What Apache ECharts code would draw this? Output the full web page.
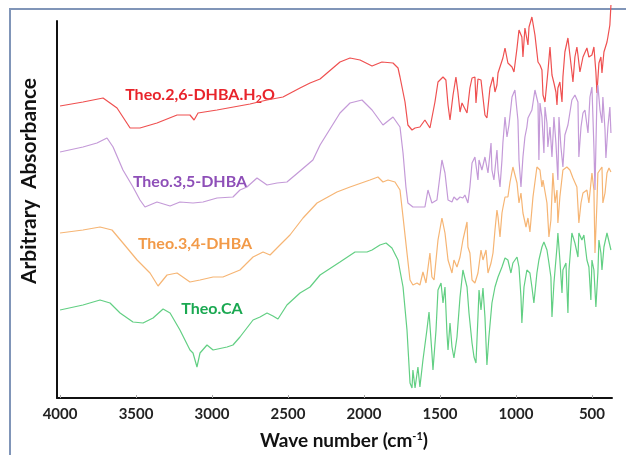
<!DOCTYPE html>
<html>
<head>
<meta charset="utf-8">
<script src="https://cdn.jsdelivr.net/npm/echarts@6/dist/echarts.min.js"></script>
<style>html,body{margin:0;padding:0;background:#fff}#c{width:626px;height:455px}</style>
</head>
<body>
<div id="c"></div>
<script>
// Wave number tick labels
var xTicks = [4000, 3500, 3000, 2500, 2000, 1500, 1000, 500];

// [wave number (cm-1), arbitrary absorbance]
var dhba26 = [[4000,292],[3849,296],[3717,300],[3625,290],[3539,270],[3474,270],[3362,275],[3230,283],[3145,283],[3118,278],[3092,285],[2967,288],[2750,294],[2638,298],[2533,301],[2421,310],[2355,315],[2289,319],[2158,336],[2092,340],[2026,338],[1947,332],[1882,336],[1809,335],[1776,330],[1763,321],[1730,296],[1711,273],[1684,268],[1664,270],[1632,271],[1599,278],[1566,270],[1533,296],[1513,316],[1480,321],[1461,318],[1447,293],[1434,278],[1414,303],[1395,321],[1382,306],[1368,286],[1355,295],[1342,296],[1322,285],[1303,310],[1289,320],[1270,321],[1263,295],[1250,319],[1230,318],[1204,283],[1191,280],[1171,310],[1151,321],[1138,306],[1125,313],[1118,325],[1086,340],[1072,350],[1053,335],[1026,331],[1013,326],[993,350],[980,368],[961,361],[954,341],[941,370],[921,353],[914,371],[895,381],[875,363],[855,336],[842,333],[829,328],[822,303],[809,296],[790,326],[776,351],[763,323],[750,315],[737,306],[730,293],[724,310],[711,316],[697,296],[691,321],[678,346],[658,360],[645,343],[632,326],[625,316],[612,341],[599,351],[592,343],[579,326],[559,341],[533,350],[520,341],[500,343],[487,351],[474,326],[467,305],[454,335],[441,341],[434,325],[421,346],[401,356],[395,361],[382,373],[375,393]];

var dhba35 = [[4000,246],[3849,251],[3757,255],[3691,260],[3651,251],[3586,228],[3520,211],[3474,198],[3441,191],[3362,196],[3276,192],[3211,196],[3125,195],[3059,196],[2967,200],[2862,201],[2816,208],[2770,211],[2704,220],[2638,213],[2572,215],[2507,216],[2421,227],[2336,238],[2289,253],[2158,285],[2092,295],[2013,298],[1947,288],[1875,273],[1809,281],[1796,281],[1763,271],[1743,245],[1724,211],[1711,195],[1678,191],[1599,191],[1579,208],[1566,210],[1553,195],[1520,198],[1487,238],[1467,225],[1447,198],[1421,196],[1408,201],[1388,198],[1368,201],[1349,200],[1336,203],[1316,195],[1303,211],[1289,235],[1270,241],[1250,218],[1243,238],[1224,228],[1204,241],[1184,225],[1164,255],[1158,228],[1145,218],[1125,248],[1118,228],[1105,211],[1092,238],[1086,255],[1072,281],[1059,261],[1046,273],[1026,301],[1007,308],[987,278],[980,238],[967,211],[954,241],[941,261],[928,271],[921,280],[895,288],[875,308],[855,295],[849,238],[842,295],[829,281],[816,245],[809,291],[796,275],[790,251],[776,271],[763,241],[750,281],[737,255],[724,218],[717,281],[704,251],[691,231],[678,263],[658,273],[645,271],[632,298],[612,303],[592,296],[586,241],[572,271],[559,285],[546,288],[526,265],[513,301],[500,311],[487,251],[480,208],[467,301],[461,313],[447,288],[434,275],[428,301],[414,268],[408,240],[395,271],[382,291],[375,265]];

var dhba34 = [[4000,165],[3849,168],[3737,171],[3658,168],[3586,155],[3493,138],[3408,125],[3355,112],[3296,123],[3230,125],[3145,116],[3079,118],[2993,121],[2928,121],[2816,128],[2730,141],[2664,146],[2618,143],[2553,153],[2487,163],[2401,180],[2309,195],[2178,206],[2092,211],[1961,218],[1908,221],[1875,216],[1842,218],[1796,216],[1763,208],[1743,181],[1717,145],[1697,118],[1678,113],[1651,115],[1632,113],[1612,126],[1592,115],[1566,145],[1553,121],[1539,118],[1513,158],[1487,180],[1467,165],[1447,138],[1421,125],[1408,138],[1388,131],[1368,141],[1349,158],[1322,176],[1316,151],[1303,145],[1289,118],[1270,115],[1250,125],[1230,148],[1217,138],[1197,148],[1184,125],[1164,135],[1151,145],[1138,168],[1125,188],[1118,181],[1105,161],[1092,185],[1086,190],[1072,201],[1053,201],[1039,216],[1020,231],[993,215],[980,195],[967,205],[954,185],[934,171],[921,180],[908,166],[888,201],[862,231],[842,228],[829,211],[822,218],[796,195],[783,161],[770,178],[757,225],[743,195],[730,208],[724,175],[711,201],[691,228],[665,231],[645,228],[625,220],[599,211],[586,175],[572,195],[559,205],[533,208],[520,195],[500,225],[487,208],[480,145],[467,195],[461,225],[434,231],[428,195],[414,205],[401,225],[388,230],[375,226]];

var ca = [[4000,88],[3849,93],[3737,98],[3671,95],[3605,85],[3520,76],[3454,75],[3388,80],[3322,89],[3276,85],[3211,68],[3145,48],[3125,45],[3099,31],[3079,45],[3033,53],[2993,48],[2901,51],[2862,53],[2816,61],[2730,78],[2684,81],[2638,85],[2599,82],[2566,79],[2507,93],[2421,105],[2355,111],[2289,123],[2158,136],[2059,146],[1980,146],[1947,148],[1895,153],[1855,155],[1816,150],[1776,138],[1743,111],[1717,68],[1697,15],[1684,10],[1678,28],[1664,10],[1645,31],[1632,11],[1612,38],[1586,68],[1572,86],[1553,45],[1546,28],[1526,68],[1513,108],[1493,115],[1480,95],[1467,111],[1454,65],[1447,48],[1434,75],[1421,51],[1408,40],[1388,61],[1368,101],[1349,128],[1322,111],[1309,85],[1289,55],[1276,41],[1263,35],[1250,81],[1243,108],[1230,88],[1217,110],[1204,81],[1191,33],[1178,61],[1158,95],[1138,111],[1118,121],[1092,131],[1072,140],[1053,138],[1033,125],[1020,135],[993,141],[980,131],[967,101],[961,75],[947,111],[928,128],[908,125],[895,111],[882,95],[862,125],[849,138],[829,151],[816,156],[796,148],[783,135],[770,121],[763,81],[750,115],[730,151],[724,165],[711,138],[697,105],[691,128],[671,135],[658,85],[651,128],[632,165],[612,155],[592,141],[586,165],[566,158],[553,163],[533,138],[520,131],[507,98],[500,138],[487,128],[474,91],[461,125],[454,158],[441,145],[434,128],[421,151],[401,165],[388,165],[375,148]];

var names = ['Theo.2,6-DHBA.H2O', 'Theo.3,5-DHBA', 'Theo.3,4-DHBA', 'Theo.CA'];
var lineColors = ['#ef5050', '#c49ad8', '#f6b574', '#62cf83'];
var textColors = ['#e8242b', '#8e4fb8', '#f29a48', '#1aa851'];
var seriesData = [dhba26, dhba35, dhba34, ca];

var chart = echarts.init(document.getElementById('c'), null, {renderer: 'canvas'});
var FONT = 'Lato, "Open Sans", sans-serif';

var series = seriesData.map(function (d, i) {
  return {
    name: names[i], type: 'line', data: d, symbol: 'none', clip: false,
    lineStyle: {color: lineColors[i], width: 1.2}, silent: true, z: 2
  };
});

chart.setOption({
  animation: false,
  backgroundColor: '#fff',
  grid: {left: 57, right: 14, top: 21, bottom: 57},
  xAxis: {
    type: 'value', inverse: true, min: 368, max: 4020,
    axisLine: {lineStyle: {color: '#111', width: 2}},
    axisTick: {show: true, inside: true, length: 3, lineStyle: {color: '#aaa'}, customValues: xTicks},
    axisLabel: {customValues: xTicks, formatter: function (v) { return String(v); },
      fontFamily: FONT, fontWeight: 'bold', fontSize: 15, color: '#222', margin: 9},
    splitLine: {show: false}
  },
  yAxis: {
    type: 'value', min: 0, max: 377,
    axisLine: {show: true, lineStyle: {color: '#111', width: 2}},
    axisTick: {show: false}, axisLabel: {show: false}, splitLine: {show: false}
  },
  series: series,
  graphic: [
    {type: 'rect', shape: {x: 10, y: 9, width: 640, height: 470}, style: {fill: null, stroke: '#8095b8', lineWidth: 2}, silent: true},
    {type: 'text', x: 29, y: 181, rotation: Math.PI / 2,
      style: {text: 'Arbitrary  Absorbance', fontFamily: FONT, fontWeight: 'bold', fontSize: 21, fill: '#111', align: 'center', verticalAlign: 'middle'}},
    {type: 'text', x: 344, y: 441,
      style: {text: '{n|Wave number (cm}{s|-1}{n|)}', align: 'center', verticalAlign: 'middle',
        rich: {n: {fontFamily: FONT, fontWeight: 'bold', fontSize: 19, fill: '#111'}, s: {fontFamily: FONT, fontWeight: 'bold', fontSize: 11, fill: '#111', verticalAlign: 'top', padding: [0, 0, 9, 0]}}}},
    {type: 'text', x: 200, y: 95,
      style: {text: '{n|Theo.2,6-DHBA.H}{s|2}{n|O}', align: 'center', verticalAlign: 'middle',
        rich: {n: {fontFamily: FONT, fontWeight: 'bold', fontSize: 16, fill: textColors[0]}, s: {fontFamily: FONT, fontWeight: 'bold', fontSize: 11, fill: textColors[0], padding: [8, 0, 0, 0]}}}},
    {type: 'text', x: 190, y: 182, style: {text: names[1], fontFamily: FONT, fontWeight: 'bold', fontSize: 16, fill: textColors[1], align: 'center', verticalAlign: 'middle'}},
    {type: 'text', x: 195, y: 244, style: {text: names[2], fontFamily: FONT, fontWeight: 'bold', fontSize: 16, fill: textColors[2], align: 'center', verticalAlign: 'middle'}},
    {type: 'text', x: 212, y: 309, style: {text: names[3], fontFamily: FONT, fontWeight: 'bold', fontSize: 16, fill: textColors[3], align: 'center', verticalAlign: 'middle'}}
  ]
});
</script>
</body>
</html>
